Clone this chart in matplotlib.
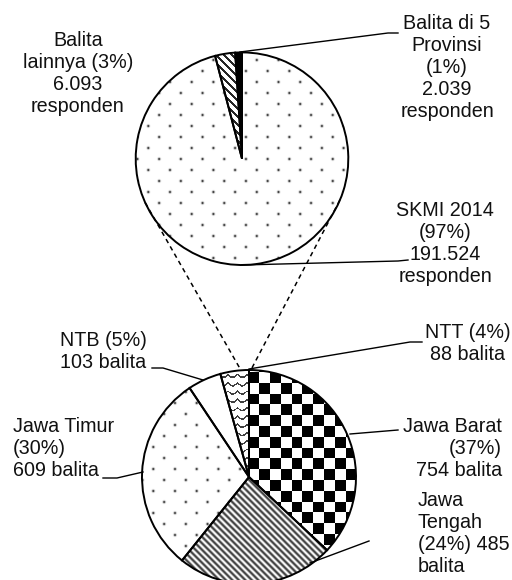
import numpy as np
import matplotlib.pyplot as plt

plt.rcParams["font.family"] = ["Liberation Sans", "DejaVu Sans"]

# data
top_names = ["Balita di 5\nProvinsi", "Balita\nlainnya", "SKMI 2014"]
top_pct = [1, 3, 97]
top_counts = [2039, 6093, 191524]

bottom_names = ["Jawa Barat", "Jawa\nTengah", "Jawa Timur", "NTB", "NTT"]
bottom_pct = [37, 24, 30, 5, 4]
bottom_counts = [754, 485, 609, 103, 88]

W, H = 512, 580
FS = 14.2


def px(x, y):
    # pixel position (y down) -> axes data (y up)
    return x, H - y


def num(n):
    return f"{n:,}".replace(",", ".")


fig = plt.figure(figsize=(W / 100, H / 100), dpi=100)
ax = fig.add_axes([0, 0, 1, 1])

# ---- fill textures, one pixel per cell ----
yy, xx = np.mgrid[0:H, 0:W] + 0.5


def dots(x0, y0):
    a = (xx - x0) / 10.85
    b = (yy - y0) / 11.0
    s = (a + b) / 2
    t = (a - b) / 2
    ds = s - np.round(s)
    dt = t - np.round(t)
    dx = (ds + dt) * 10.85
    dy = (ds - dt) * 11.0
    return 1 - 0.85 * np.exp(-(dx**2 + dy**2) / (2 * 0.9**2))


checker = ((np.floor((xx - 270) / 10.8) + np.floor((yy - 480) / 10.8)) % 2).astype(float)
stripes = 0.62 + 0.38 * np.cos(2 * np.pi * (xx - yy) / 6.5)
hatch = np.where(((xx - yy) % 8) < 2.2, 0.15, 1.0)
black = np.zeros((H, W))
waves = np.where(((yy - 3 * np.abs(np.sin(np.pi * xx / 9.5))) % 8.3) < 1.8, 0.25, 1.0)
blank = np.ones((H, W))


def fill(wedge, img):
    im = ax.imshow(img, extent=(0, W, 0, H), origin="upper", cmap="gray",
                   vmin=0, vmax=1, interpolation="nearest", zorder=2)
    im.set_clip_path(wedge)


wp = dict(facecolor="none", edgecolor="black", linewidth=1.4, zorder=3)

top_c, top_r = px(242, 158.7), 106.3
w_top, _ = ax.pie(top_counts, startangle=90, counterclock=True,
                  center=top_c, radius=top_r, wedgeprops=wp)
for w, img in zip(w_top, [black, hatch, dots(170, 60)]):
    fill(w, img)

bot_c, bot_r = px(249, 477), 107
w_bot, _ = ax.pie(bottom_counts, startangle=90, counterclock=False,
                  center=bot_c, radius=bot_r, wedgeprops=wp)
for w, img in zip(w_bot, [checker, stripes, dots(175, 425), blank, waves]):
    fill(w, img)


# ---- dashed connectors between the two pies ----
def on_circle(c, r, deg):
    a = np.radians(deg)
    return c[0] + r * np.cos(a), c[1] + r * np.sin(a)


for a_top, a_bot in [(204.4, 94.3), (-22.9, 89.0)]:
    p1 = on_circle(top_c, top_r, a_top)
    p2 = on_circle(bot_c, bot_r, a_bot)
    ax.plot([p1[0], p2[0]], [p1[1], p2[1]], color="black", lw=1.1,
            ls=(0, (3, 2.5)), zorder=4)

# ---- labels ----
top_text = [
    f"{top_names[0]}\n({top_pct[0]}%)\n{num(top_counts[0])}\nresponden",
    f"{top_names[1]} ({top_pct[1]}%)\n{num(top_counts[1])}\nresponden",
    f"{top_names[2]}\n({top_pct[2]}%)\n{num(top_counts[2])}\nresponden",
]
bot_text = [
    f"{bottom_names[0]}\n({bottom_pct[0]}%)\n{bottom_counts[0]} balita",
    f"{bottom_names[1]}\n({bottom_pct[1]}%) {bottom_counts[1]}\nbalita",
    f"{bottom_names[2]}\n({bottom_pct[2]}%)\n{bottom_counts[2]} balita",
    f"{bottom_names[3]} ({bottom_pct[3]}%)\n{bottom_counts[3]} balita",
    f"{bottom_names[4]} ({bottom_pct[4]}%)\n{bottom_counts[4]} balita",
]

# (text, x, y, ha, leader polyline in pixels)
labels = [
    (top_text[0], 447, 67.5, "center", [(240, 52), (388, 33), (398, 33)]),
    (top_text[1], 78, 73, "center", []),
    (top_text[2], 445, 243, "center", [(242, 265), (398, 261), (408, 260)]),
    (bot_text[0], 502, 448, "right", [(350, 434), (398, 430)]),
    (bot_text[1], 418, 533.5, "left", [(310, 563), (369, 541)]),
    (bot_text[2], 13, 448.5, "left", [(103, 478), (117, 478), (143, 472)]),
    (bot_text[3], 60, 351, "left", [(152, 368), (163, 368), (203, 380)]),
    (bot_text[4], 468, 343.5, "center", [(249, 369), (410, 342), (422, 342)]),
]

for txt, x, y, ha, leader in labels:
    ax.text(*px(x, y), txt, ha=ha, va="center", multialignment=ha,
            fontsize=FS, linespacing=1.2, color="#111111", zorder=5)
    if leader:
        pts = [px(a, b) for a, b in leader]
        ax.plot([p[0] for p in pts], [p[1] for p in pts], color="black",
                lw=1.0, zorder=4)

ax.set_xlim(0, W)
ax.set_ylim(0, H)
ax.axis("off")

fig.savefig("out.png", dpi=100)
